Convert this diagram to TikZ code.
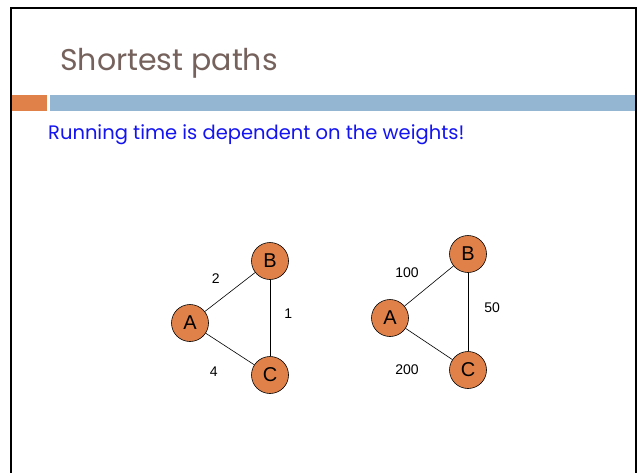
\documentclass[tikz,border=0pt]{standalone}
\usepackage{fontspec}
\setmainfont{Poppins}
\newfontfamily\arialfont{Liberation Sans}
\usetikzlibrary{calc,positioning}

\definecolor{titlegray}{HTML}{76625C}
\definecolor{barorange}{HTML}{E0814A}
\definecolor{barblue}{HTML}{95B6D3}
\definecolor{textblue}{HTML}{1414F0}

\tikzset{
  vertex/.style={draw,circle,fill=barorange,line width=0.6pt,minimum size=37pt,inner sep=0pt,font=\arialfont\fontsize{20}{22}\selectfont},
  weight/.style={font=\arialfont\fontsize{14}{16}\selectfont,inner sep=2pt}
}

\begin{document}
\begin{tikzpicture}[x=1pt,y=-1pt]
  \useasboundingbox (0,0) rectangle (642,472);
  \fill[white] (0,0) rectangle (642,472);

  % slide frame
  \draw[line width=2.2pt] (11,473) -- (11,8) -- (636,8) -- (636,473);

  \node[anchor=base west,inner sep=0pt,text=titlegray,font=\fontsize{30}{34}\selectfont] (title) at (60,70) {Shortest paths};

  \fill[barorange] (12,95) rectangle (47,111);
  \fill[barblue] (50,95) rectangle (635,111);

  \node[anchor=base west,inner sep=0pt,text=textblue,font=\fontsize{19.5}{22}\selectfont] (intro) at (48,139) {Running time is dependent on the weights!};

  % first graph
  \node[vertex] (A1) at (190,323) {A};
  \node[vertex] (B1) at (270,261) {B};
  \node[vertex] (C1) at (270,375) {C};

  \path (A1) edge[line width=0.6pt] node[weight,above left=6pt and 8pt] {2} (B1)
        (B1) edge[line width=0.6pt] node[weight,right=12pt,yshift=4pt] {1} (C1)
        (A1) edge[line width=0.6pt] node[weight,below left=16pt and 10pt] {4} (C1);

  % second graph
  \node[vertex] (A2) at (390,318) {A};
  \node[vertex] (B2) at (468,254) {B};
  \node[vertex] (C2) at (468,370) {C};

  \path (A2) edge[line width=0.6pt] node[weight,above left=6pt and 8pt] {100} (B2)
        (B2) edge[line width=0.6pt] node[weight,right=14pt,yshift=4pt] {50} (C2)
        (A2) edge[line width=0.6pt] node[weight,below left=18pt and 8pt] {200} (C2);

\end{tikzpicture}
\end{document}
